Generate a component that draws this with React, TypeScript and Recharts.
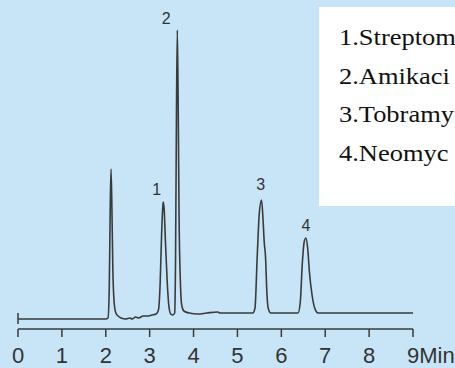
import { Line, LineChart, ReferenceDot, ReferenceLine, XAxis, YAxis } from 'recharts'

const times = [
  0.0, 1.0, 2.0, 2.05, 2.08, 2.1, 2.12, 2.14, 2.16, 2.19, 2.23, 2.28, 2.35, 2.45, 2.55, 2.6, 2.68, 2.75,
  2.85, 2.95, 3.05, 3.15, 3.2, 3.24, 3.27, 3.3, 3.31, 3.33, 3.36, 3.4, 3.44, 3.48, 3.53, 3.57, 3.59,
  3.61, 3.63, 3.65, 3.67, 3.7, 3.73, 3.78, 3.9, 4.1, 4.3, 4.55, 4.6, 5.0, 5.35, 5.4, 5.45, 5.5, 5.55,
  5.58, 5.61, 5.64, 5.67, 5.7, 5.76, 6.0, 6.38, 6.43, 6.48, 6.52, 6.56, 6.6, 6.64, 6.7, 6.76, 6.84,
  7.5, 9.0,
]
const signal = [
  -2, -2, -2, -1, 30, 105, 148, 108, 50, 15, 4, 1, -1, -2, -1, -2, 0, -1,
  1, 1, 2, 3, 7, 35, 80, 111, 115, 108, 75, 35, 10, 3, 2, 4, 60,
  200, 287, 210, 100, 35, 12, 6, 4, 3, 4, 5, 4, 4, 4, 9, 60, 105, 117,
  100, 75, 60, 25, 9, 4, 4, 4, 14, 55, 75, 79, 69, 45, 22, 9, 4,
  4, 4,
]

const xTicks = [0, 1, 2, 3, 4, 5, 6, 7, 8, 9]

const peakNames = ['1', '2', '3', '4']
const peakTimes = [3.31, 3.63, 5.55, 6.56]
const peakHeights = [115, 287, 117, 79]
const peakLabelOffsets = [
  [-6.5, -7],
  [-11, -6.5],
  [-1, -10],
  [0, -7.5],
]

// the legend is cut by the picture's right edge in the original
const legendLabels = ['1.Streptom', '2.Amikaci', '3.Tobramy', '4.Neomyc']

const rows = times.map((t, i) => ({ t, v: signal[i] }))

const INK = '#3a3a3a'

function TimeTick({ x, y, payload }: any) {
  const value = payload.value
  const common = {
    y,
    dy: 24,
    fill: '#333',
    fontSize: 22,
    fontFamily: '"Liberation Sans", Arial, sans-serif',
  }
  if (value === 9) {
    return (
      <text {...common} x={x - 6} textAnchor="start">
        9Min
      </text>
    )
  }
  return (
    <text {...common} x={x} textAnchor="middle">
      {value}
    </text>
  )
}

export default function App() {
  return (
    <div
      style={{
        position: 'absolute',
        left: 0,
        top: 0,
        width: 455,
        height: 368,
        overflow: 'hidden',
        background: '#c7e5f6',
      }}
    >
      <LineChart width={455} height={368} data={rows} margin={{ top: 17, right: 42, bottom: 0, left: 18 }}>
        <XAxis
          dataKey="t"
          type="number"
          domain={[0, 9]}
          ticks={xTicks}
          height={39}
          tickSize={8}
          axisLine={{ stroke: INK, strokeWidth: 1.5 }}
          tickLine={{ stroke: INK, strokeWidth: 1.5 }}
          tick={<TimeTick />}
          interval={0}
        />
        <YAxis hide domain={[-12, 300]} />
        <ReferenceLine
          segment={[
            { x: 0, y: -7 },
            { x: 0, y: 4 },
          ]}
          stroke={INK}
          strokeWidth={1.5}
        />
        <Line
          type="monotone"
          dataKey="v"
          stroke={INK}
          strokeWidth={1.6}
          dot={false}
          isAnimationActive={false}
        />
        {peakNames.map((name, i) => (
          <ReferenceDot
            key={name}
            x={peakTimes[i]}
            y={peakHeights[i]}
            r={0}
            shape={(props: any) => (
              <text
                x={props.cx + peakLabelOffsets[i][0]}
                y={props.cy + peakLabelOffsets[i][1]}
                textAnchor="middle"
                fill="#333"
                fontSize={16}
                fontFamily='"Liberation Sans", Arial, sans-serif'
              >
                {name}
              </text>
            )}
          />
        ))}
      </LineChart>
      <div
        style={{
          position: 'absolute',
          left: 319,
          top: 7,
          width: 200,
          height: 199,
          background: '#fff',
        }}
      >
        {legendLabels.map((label, i) => (
          <div
            key={label}
            style={{
              position: 'absolute',
              left: 19.5,
              top: 19 + i * 38.7,
              fontSize: 23,
              lineHeight: '24px',
              fontFamily: '"Liberation Serif", "Times New Roman", serif',
              color: '#111',
              whiteSpace: 'nowrap',
              transform: 'scaleX(1.15)',
              transformOrigin: '0 50%',
            }}
          >
            {label}
          </div>
        ))}
      </div>
    </div>
  )
}
